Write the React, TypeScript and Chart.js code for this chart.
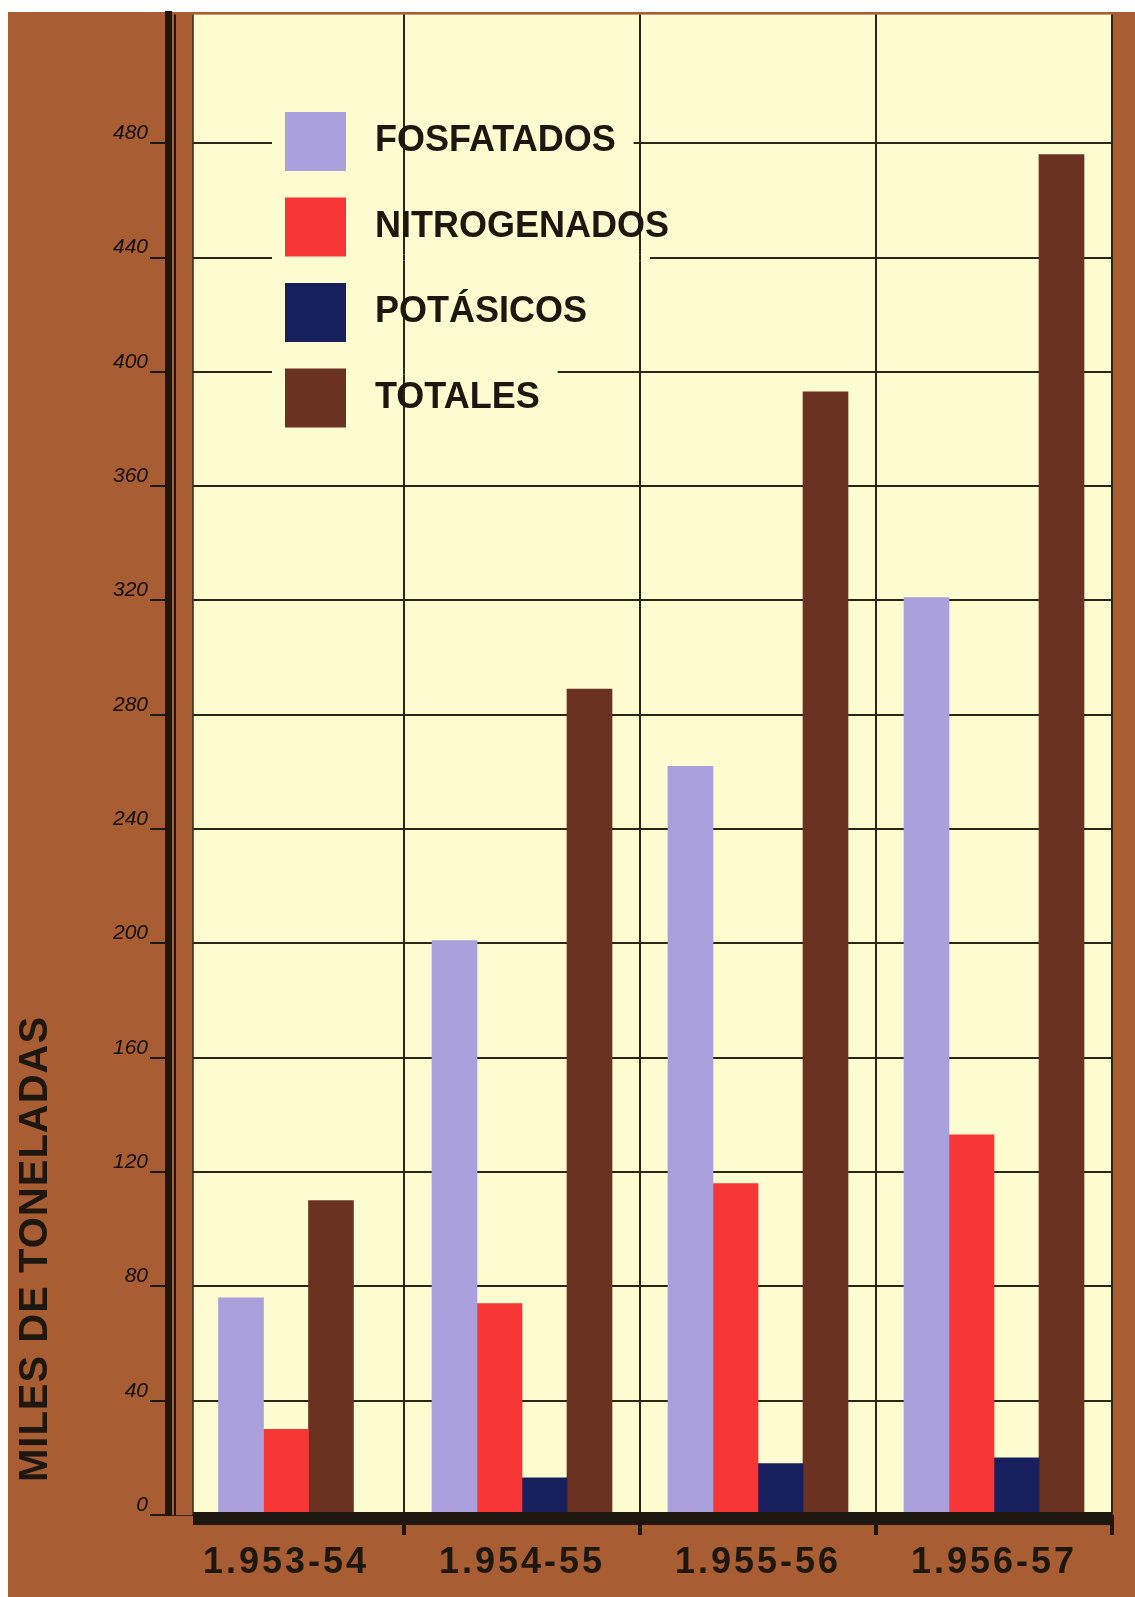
import React, { useEffect, useRef } from 'react';
import { Chart, registerables } from 'chart.js';

Chart.register(...registerables);

// ---- data ----
const categories = ['1.953-54', '1.954-55', '1.955-56', '1.956-57'];
const seriesLabels = ['FOSFATADOS', 'NITROGENADOS', 'POTÁSICOS', 'TOTALES'];
const fosfatados = [76, 201, 262, 321];
const nitrogenados = [30, 74, 116, 133];
const potasicos = [null, 13, 18, 20];
const totales = [110, 289, 393, 476];
const yTickValues = [0, 40, 80, 120, 160, 200, 240, 280, 320, 360, 400, 440, 480];
const yTitle = 'MILES DE TONELADAS';

// ---- styles ----
const FAMILY = '"Liberation Sans", Arial, "DejaVu Sans", sans-serif';
const PANEL = '#a85d32';
const PAPER = '#fdfbd0';
const INK = '#1d1710';
const GRID = '#2a2618';
const SERIES_COLORS = ['#a9a0dc', '#f63535', '#17205c', '#6b3222'];
const PLOT_LEFT = 193;

const decorPlugin = {
  id: 'decor',
  beforeDraw(chart: any) {
    const { ctx, width, height, chartArea: ca } = chart;
    ctx.save();
    ctx.fillStyle = '#ffffff';
    ctx.fillRect(0, 0, width, height);
    ctx.fillStyle = PANEL;
    ctx.fillRect(8, 12, width - 8, height - 12);
    ctx.fillStyle = PAPER;
    ctx.fillRect(PLOT_LEFT, ca.top, ca.right - PLOT_LEFT, ca.bottom - ca.top);
    // axis title
    ctx.translate(36, 1482);
    ctx.rotate(-Math.PI / 2);
    ctx.font = 'bold 40px ' + FAMILY;
    (ctx as any).letterSpacing = '1px';
    ctx.textAlign = 'left';
    ctx.textBaseline = 'middle';
    ctx.fillStyle = INK;
    ctx.fillText(yTitle, 0, 0);
    ctx.restore();
  },
  beforeDatasetsDraw(chart: any) {
    const { ctx, chartArea: ca } = chart;
    const yScale = chart.scales.y;
    const xScale = chart.scales.x;
    ctx.save();
    // brown strip between the axis and the paper
    ctx.fillStyle = PANEL;
    ctx.fillRect(ca.left + 4, ca.top, PLOT_LEFT - ca.left - 4, ca.bottom - ca.top);
    ctx.strokeStyle = INK;
    ctx.lineWidth = 2;
    ctx.beginPath();
    ctx.moveTo(ca.left + 7, ca.top);
    ctx.lineTo(ca.left + 7, ca.bottom);
    ctx.stroke();
    ctx.lineWidth = 1.5;
    ctx.strokeStyle = '#3a2614';
    ctx.beginPath();
    ctx.moveTo(PLOT_LEFT, ca.top);
    ctx.lineTo(PLOT_LEFT, ca.bottom);
    ctx.stroke();

    // legend
    const legX = 285;
    const legTop = 112;
    const legStep = 85.5;
    const boxW = 61;
    const boxH = 59;
    const textX = 375;
    ctx.font = 'bold 36px ' + FAMILY;
    chart.data.datasets.forEach((ds: any, i: number) => {
      const top = legTop + i * legStep;
      const tw = ctx.measureText(ds.label).width;
      const x0 = legX - 13;
      const x1 = Math.min(textX + tw + 18, 650);
      const y0 = top - 12;
      const y1 = top + boxH + 12;
      yScale.ticks.forEach((t: any) => {
        const py = yScale.getPixelForValue(t.value);
        if (py >= y0 && py <= y1) {
          ctx.fillStyle = PAPER;
          ctx.fillRect(x0, py - 3, x1 - x0, 6);
          ctx.strokeStyle = GRID;
          ctx.lineWidth = 2;
          for (let j = 0; j <= categories.length; j++) {
            const px = xScale.getPixelForValue(j - 0.5);
            if (px > x0 && px < x1) {
              ctx.beginPath();
              ctx.moveTo(px, py - 3);
              ctx.lineTo(px, py + 3);
              ctx.stroke();
            }
          }
        }
      });
      ctx.fillStyle = ds.backgroundColor;
      ctx.fillRect(legX, top, boxW, boxH);
      ctx.fillStyle = INK;
      ctx.textAlign = 'left';
      ctx.textBaseline = 'middle';
      ctx.fillText(ds.label, textX, top + boxH / 2);
    });
    ctx.restore();
  },
  afterDatasetsDraw(chart: any) {
    const { ctx, chartArea: ca } = chart;
    ctx.save();
    ctx.fillStyle = INK;
    ctx.fillRect(PLOT_LEFT, ca.bottom - 3, ca.right - PLOT_LEFT, 13);
    ctx.restore();
    (ctx as any).letterSpacing = '3px';
  },
  afterDraw(chart: any) {
    (chart.ctx as any).letterSpacing = '0px';
  },
};

export default function App() {
  const ref = useRef<HTMLCanvasElement | null>(null);

  useEffect(() => {
    if (!ref.current) return;
    const seriesData = [fosfatados, nitrogenados, potasicos, totales];
    const chart = new Chart(ref.current, {
      type: 'bar',
      data: {
        labels: categories,
        datasets: seriesLabels.map((label, i) => ({
          label,
          data: seriesData[i] as any,
          backgroundColor: SERIES_COLORS[i],
          borderWidth: 0,
          barThickness: 45,
          skipNull: true,
        })) as any,
      },
      options: {
        animation: false,
        responsive: true,
        maintainAspectRatio: false,
        devicePixelRatio: 1,
        layout: { padding: { top: 12, right: 23, left: 0, bottom: 0 } },
        plugins: {
          legend: { display: false },
          tooltip: { enabled: false },
        },
        scales: {
          x: {
            offset: true,
            afterFit: (s: any) => {
              s.height = 82;
            },
            border: { display: false },
            grid: {
              offset: true,
              color: GRID,
              lineWidth: 2,
              drawTicks: true,
              tickLength: 20,
              tickWidth: 4,
              tickColor: (c: any) => (c.index === 0 ? 'rgba(0,0,0,0)' : INK),
            },
            ticks: {
              z: 1,
              font: { family: FAMILY, size: 36, weight: 'bold' },
              color: INK,
              padding: 6,
              maxRotation: 0,
              autoSkip: false,
            },
          },
          y: {
            min: 0,
            max: 525,
            afterBuildTicks: (axis: any) => {
              axis.ticks = yTickValues.map((v) => ({ value: v }));
            },
            afterFit: (s: any) => {
              s.width = 168;
            },
            border: { display: true, color: INK, width: 7 },
            grid: {
              color: GRID,
              lineWidth: 2,
              drawTicks: true,
              tickLength: 18,
              tickColor: INK,
              tickWidth: 2,
            },
            ticks: {
              font: { family: FAMILY, size: 21, style: 'italic' },
              color: '#140f0a',
              padding: 2,
              labelOffset: -10,
            },
          },
        },
      } as any,
      plugins: [decorPlugin],
    });
    return () => chart.destroy();
  }, []);

  return (
    <div style={{ position: 'absolute', left: 0, top: 0, width: 1135, height: 1597 }}>
      <canvas ref={ref} />
    </div>
  );
}
